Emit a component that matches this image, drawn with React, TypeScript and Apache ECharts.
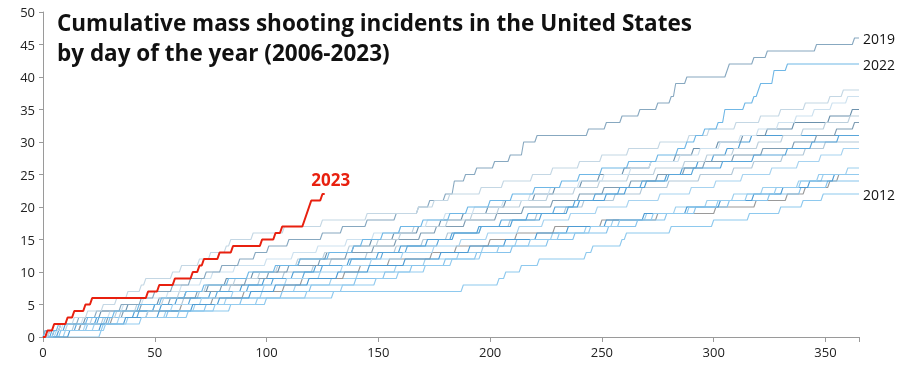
import React, { useEffect, useRef } from "react";
import * as echarts from "echarts";

// [day, cumulative count] at each step
const y2006 = [[3,1],[14,2],[27,3],[35,4],[50,5],[63,6],[70,7],[84,8],[97,9],[108,10],[121,11],[129,12],[145,13],[158,14],[170,15],[181,16],[196,17],[209,18],[221,19],[234,20],[242,21],[256,22],[268,23],[280,24],[294,25],[309,26],[318,27],[331,28],[341,29],[350,30]];
const y2007 = [[7,1],[10,2],[24,3],[41,4],[53,5],[60,6],[75,7],[89,8],[99,9],[112,10],[122,11],[137,12],[150,13],[160,14],[172,15],[184,16],[195,17],[210,18],[223,19],[235,20],[240,21],[252,22],[261,23],[270,24],[279,25],[286,26],[293,27],[300,28],[306,29],[312,30],[317,31]];
const y2008 = [[1,1],[17,2],[29,3],[36,4],[44,5],[57,6],[69,7],[80,8],[91,9],[101,10],[110,11],[124,12],[136,13],[148,14],[158,15],[169,16],[176,17],[189,18],[203,19],[215,20],[228,21],[240,22],[251,23],[263,24],[275,25],[287,26],[296,27],[309,28],[322,29],[336,30],[346,31],[355,32],[363,33]];
const y2009 = [[5,1],[8,2],[19,3],[26,4],[38,5],[52,6],[64,7],[74,8],[82,9],[94,10],[106,11],[115,12],[127,13],[139,14],[147,15],[157,16],[168,17],[178,18],[188,19],[199,20],[207,21],[220,22],[229,23],[241,24],[249,25],[260,26],[272,27],[283,28],[291,29],[302,30],[313,31],[324,32],[336,33],[352,34],[362,35]];
const y2010 = [[10,1],[23,2],[38,3],[55,4],[68,5],[82,6],[98,7],[113,8],[129,9],[141,10],[158,11],[171,12],[186,13],[197,14],[212,15],[228,16],[243,17],[255,18],[270,19],[283,20],[297,21],[309,22],[322,23],[338,24],[349,25],[360,26]];
const y2011 = [[2,1],[17,2],[31,3],[47,4],[62,5],[76,6],[90,7],[108,8],[116,9],[135,10],[142,11],[155,12],[174,13],[185,14],[200,15],[212,16],[229,17],[250,18],[275,19],[301,20],[319,21],[333,22],[341,23],[352,24],[356,25]];
const y2012 = [[26,1],[27,2],[28,3],[65,4],[84,5],[100,6],[130,7],[188,8],[204,9],[207,10],[214,11],[222,12],[243,13],[246,14],[259,15],[261,16],[281,17],[300,18],[316,19],[330,20],[340,21],[349,22]];
const y2013 = [[4,1],[15,2],[25,3],[43,4],[50,5],[66,6],[78,7],[92,8],[103,9],[117,10],[125,11],[138,12],[152,13],[163,14],[177,15],[183,16],[196,17],[205,18],[217,19],[229,20],[238,21],[247,22],[258,23],[268,24],[280,25],[291,26],[304,27],[318,28],[333,29],[344,30],[356,31]];
const y2014 = [[8,1],[20,2],[30,3],[56,4],[73,5],[89,6],[107,7],[120,8],[140,9],[153,10],[165,11],[180,12],[194,13],[210,14],[226,15],[238,16],[253,17],[266,18],[279,19],[292,20],[307,21],[325,22],[339,23],[351,24]];
const y2015 = [[3,1],[11,2],[22,3],[33,4],[42,5],[54,6],[61,7],[73,8],[86,9],[97,10],[105,11],[114,12],[126,13],[137,14],[150,15],[160,16],[166,17],[181,18],[192,19],[204,20],[214,21],[226,22],[238,23],[249,24],[262,25],[274,26],[287,27],[297,28],[309,29],[320,30],[331,31],[340,32],[350,33],[361,34]];
const y2016 = [[2,1],[9,2],[18,3],[30,4],[36,5],[45,6],[56,7],[62,8],[71,9],[76,10],[86,11],[100,12],[112,13],[123,14],[136,15],[148,16],[160,17],[172,18],[180,19],[193,20],[206,21],[218,22],[227,23],[240,24],[251,25],[263,26],[272,27],[285,28],[294,29],[303,30],[312,31],[320,32],[329,33],[337,34],[345,35],[353,36],[360,37]];
const y2017 = [[6,1],[19,2],[34,3],[47,4],[58,5],[71,6],[85,7],[99,8],[109,9],[124,10],[134,11],[147,12],[161,13],[175,14],[187,15],[199,16],[213,17],[224,18],[236,19],[248,20],[262,21],[276,22],[290,23],[301,24],[313,25],[326,26],[338,27],[348,28],[358,29]];
const y2018 = [[12,1],[26,2],[37,3],[52,4],[67,5],[79,6],[93,7],[104,8],[119,9],[132,10],[146,11],[162,12],[178,13],[191,14],[207,15],[221,16],[235,17],[252,18],[269,19],[288,20],[303,21],[318,22],[331,23],[343,24],[354,25]];
const y2019 = [[3,1],[8,2],[16,3],[24,4],[35,5],[44,6],[50,7],[58,8],[66,9],[73,10],[80,11],[88,12],[95,13],[101,14],[110,15],[125,16],[134,17],[145,18],[158,19],[168,20],[173,21],[180,22],[184,24],[189,25],[194,26],[202,27],[209,28],[215,30],[221,31],[244,32],[252,33],[259,34],[267,35],[275,36],[281,37],[283,39],[288,40],[306,41],[307,42],[318,43],[324,44],[346,45],[363,46]];
const y2020 = [[5,1],[28,2],[44,3],[61,4],[77,5],[96,6],[118,7],[134,8],[149,9],[159,10],[171,11],[183,12],[196,13],[204,14],[218,15],[231,16],[245,17],[258,18],[273,19],[289,20],[302,21],[315,22],[328,23],[339,24],[347,25]];
const y2021 = [[3,1],[8,2],[14,3],[20,4],[27,5],[33,6],[38,7],[44,8],[46,9],[58,10],[62,11],[70,12],[75,13],[82,14],[84,15],[94,16],[108,17],[125,18],[145,19],[168,20],[175,21],[182,22],[196,23],[206,24],[219,25],[228,26],[240,27],[250,28],[262,29],[276,30],[289,31],[298,32],[310,33],[321,34],[330,35],[341,36],[352,37],[358,38]];
const y2022 = [[1,1],[7,2],[20,3],[32,4],[43,5],[53,6],[64,7],[72,8],[83,9],[92,10],[104,11],[115,12],[128,13],[139,14],[143,15],[152,16],[160,17],[170,18],[182,19],[190,20],[200,21],[210,22],[220,23],[232,24],[240,25],[250,26],[262,27],[275,28],[284,29],[288,30],[292,31],[296,32],[302,33],[305,35],[314,36],[318,37],[320,38],[321,39],[327,41],[333,42]];
const y2023 = [[2,1],[5,2],[11,3],[14,4],[19,5],[22,6],[47,7],[52,8],[59,9],[67,10],[70,11],[72,12],[79,13],[85,14],[98,15],[104,16],[107,17],[117,18],[118,19],[119,20],[120,21],[125,22]];

const pastYears = [
  { name: "2006", steps: y2006, color: "#b2c8d8" },
  { name: "2007", steps: y2007, color: "#4f9fd6" },
  { name: "2008", steps: y2008, color: "#7f9db3" },
  { name: "2009", steps: y2009, color: "#6d92ad" },
  { name: "2010", steps: y2010, color: "#9ccfee" },
  { name: "2011", steps: y2011, color: "#9a9a9a" },
  { name: "2012", steps: y2012, color: "#8ec9ee", label: true },
  { name: "2013", steps: y2013, color: "#5aa6da" },
  { name: "2014", steps: y2014, color: "#86c3ec" },
  { name: "2015", steps: y2015, color: "#bccfdc" },
  { name: "2016", steps: y2016, color: "#cde1ef" },
  { name: "2017", steps: y2017, color: "#a7d3f0" },
  { name: "2018", steps: y2018, color: "#4d9bd3" },
  { name: "2019", steps: y2019, color: "#87a8c0", label: true },
  { name: "2020", steps: y2020, color: "#93cbef" },
  { name: "2021", steps: y2021, color: "#c4d7e4" },
  { name: "2022", steps: y2022, color: "#6fb7e6", label: true },
];

const xTicks = [0, 50, 100, 150, 200, 250, 300, 350];
const lastDay2023 = 126;
const FONT = "'Open Sans', 'Noto Sans', sans-serif";

function toLine(steps: number[][], endDay: number) {
  const pts: number[][] = [[0, 0]];
  let prev = 0;
  for (const [d, v] of steps) {
    pts.push([d - 1, prev], [d, v]);
    prev = v;
  }
  pts.push([endDay, prev]);
  return pts;
}

export default function App() {
  const ref = useRef<HTMLDivElement>(null);
  useEffect(() => {
    if (!ref.current) return;
    const chart = echarts.init(ref.current, null, { renderer: "svg" });
    const series: any[] = pastYears.map((y) => ({
      type: "line",
      name: y.name,
      data: toLine(y.steps, 365),
      showSymbol: false,
      symbol: "none",
      lineStyle: { color: y.color, width: 1.1 },
      endLabel: y.label
        ? { show: true, formatter: y.name, color: "#111", fontSize: 14, fontFamily: FONT, distance: 4 }
        : { show: false },
      z: 2,
    }));
    const d23 = toLine(y2023, lastDay2023);
    const last = d23[d23.length - 1];
    series.push({
      type: "line",
      name: "2023",
      data: d23,
      showSymbol: false,
      symbol: "none",
      lineStyle: { color: "#e8200f", width: 2 },
      markPoint: {
        symbol: "circle",
        symbolSize: 0,
        data: [
          {
            coord: last,
            label: {
              show: true,
              position: "top",
              formatter: "2023",
              color: "#e8200f",
              fontSize: 17,
              fontWeight: "bold",
              fontFamily: FONT,
              offset: [6, -1],
            },
          },
        ],
      },
      z: 5,
    });
    chart.setOption({
      animation: false,
      title: {
        text: "Cumulative mass shooting incidents in the United States\nby day of the year (2006-2023)",
        left: 52,
        top: 2,
        textStyle: { fontSize: 22.5, fontWeight: "bold", lineHeight: 30, color: "#111", fontFamily: FONT },
      },
      grid: { left: 43, right: 41, top: 12, bottom: 29, containLabel: false },
      xAxis: {
        type: "value",
        min: 0,
        max: 365,
        interval: 50,
        splitLine: { show: false },
        axisLine: { lineStyle: { color: "#9a9a9a" } },
        axisTick: { show: true, length: 5, lineStyle: { color: "#9a9a9a" }, customValues: [...xTicks, 365] },
        axisLabel: { color: "#222", fontSize: 13, fontFamily: FONT, margin: 8, customValues: xTicks },
      },
      yAxis: {
        type: "value",
        min: 0,
        max: 50,
        interval: 5,
        offset: 3,
        splitLine: { show: false },
        axisLine: { show: true, lineStyle: { color: "#9a9a9a" } },
        axisTick: { show: true, length: 4, lineStyle: { color: "#9a9a9a" } },
        axisLabel: { color: "#222", fontSize: 13, fontFamily: FONT, margin: 5 },
      },
      series,
    });
    return () => chart.dispose();
  }, []);
  return <div ref={ref} style={{ width: 900, height: 366, position: "fixed", left: 0, top: 0 }} />;
}
